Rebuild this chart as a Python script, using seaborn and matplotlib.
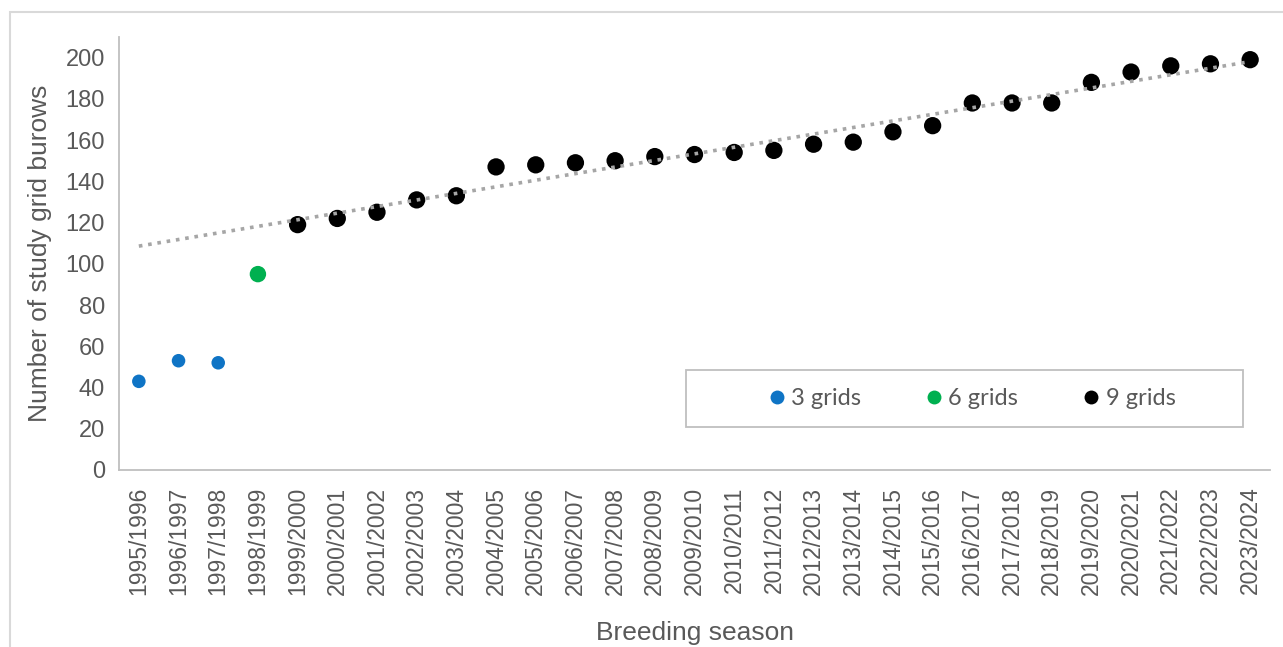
import numpy as np
import pandas as pd
import matplotlib
matplotlib.use("Agg")
import matplotlib.pyplot as plt
from matplotlib.patches import Rectangle
from matplotlib.lines import Line2D
import seaborn as sns

# Datos
seasons = [f"{y}/{y + 1}" for y in range(1995, 2024)]
burrows = [43, 53, 52, 95, 119, 122, 125, 131, 133, 147, 148, 149, 150, 152,
           153, 154, 155, 158, 159, 164, 167, 178, 178, 178, 188, 193, 196, 197, 199]
grids = ["3 grids"] * 3 + ["6 grids"] + ["9 grids"] * 25
palette = {"3 grids": "#0F74C5", "6 grids": "#00B050", "9 grids": "#000000"}
sizes = {"3 grids": 95, "6 grids": 140, "9 grids": 155}

df = pd.DataFrame({"season": seasons, "burrows": burrows, "grids": grids})
df["idx"] = np.arange(len(df))

sns.set_style("white")
plt.rcParams["font.family"] = ["Liberation Sans", "DejaVu Sans"]

fig = plt.figure(figsize=(12.83, 6.47), dpi=100)
ax = fig.add_axes([119 / 1283, 1 - 470 / 647, 1151 / 1283, 433 / 647])

# borde exterior del gráfico
fig.patches.append(Rectangle((10 / 1283, -0.1), 1.2, 1 - 12 / 647 + 0.1,
                             transform=fig.transFigure, fill=False,
                             edgecolor="#D9D9D9", linewidth=1.5))

for g in palette:
    sub = df[df["grids"] == g]
    sns.scatterplot(data=sub, x="idx", y="burrows", color=palette[g], s=sizes[g],
                    edgecolor="none", ax=ax, zorder=3, legend=False)

# línea de tendencia (ajuste lineal sobre la serie de 9 grids, extendida hacia atrás)
nine = df[df["grids"] == "9 grids"]
coef = np.polyfit(nine["idx"], nine["burrows"], 1)
ax.plot(df["idx"], np.polyval(coef, df["idx"]), color="#A6A6A6", linestyle=(0, (1, 1.6)),
        linewidth=2.6, zorder=4)

ax.set_xlim(-0.5, len(df) - 0.5)
ax.set_ylim(0, 210)
ax.set_yticks(range(0, 201, 20))
ax.set_xticks(df["idx"])
ax.set_xticklabels(df["season"], rotation=90)
ax.tick_params(axis="both", length=0, labelsize=16.5, labelcolor="#595959")
ax.tick_params(axis="y", labelsize=17, pad=10)
ax.tick_params(axis="x", pad=12)
for s in ["top", "right"]:
    ax.spines[s].set_visible(False)
for s in ["left", "bottom"]:
    ax.spines[s].set_color("#BFBFBF")
    ax.spines[s].set_linewidth(1.3)

ax.set_ylabel("Number of study grid burows", fontsize=19, color="#595959", labelpad=10)
ax.set_xlabel("Breeding season", fontsize=19, color="#595959", labelpad=19)

# leyenda con marco propio
x0 = (686 - 119) / 1151
y0 = (470 - 427) / 433
w = (1243 - 686) / 1151
h = 57 / 433
ax.add_patch(Rectangle((x0, y0), w, h, transform=ax.transAxes, fill=False,
                       edgecolor="#BFBFBF", linewidth=1.3, zorder=5))
handles = [Line2D([], [], marker="o", linestyle="none", markersize=10,
                  markerfacecolor=palette[g], markeredgecolor="none", label=g)
           for g in palette]
ax.legend(handles=handles, loc="center", bbox_to_anchor=(x0 + w / 2 + 0.005, y0 + h / 2),
          ncol=3, frameon=False, handletextpad=0.1, columnspacing=2.6,
          handlelength=1.0, labelcolor="#595959", prop={"family": "Lato", "size": 17})

fig.savefig("out.png", dpi=100)
